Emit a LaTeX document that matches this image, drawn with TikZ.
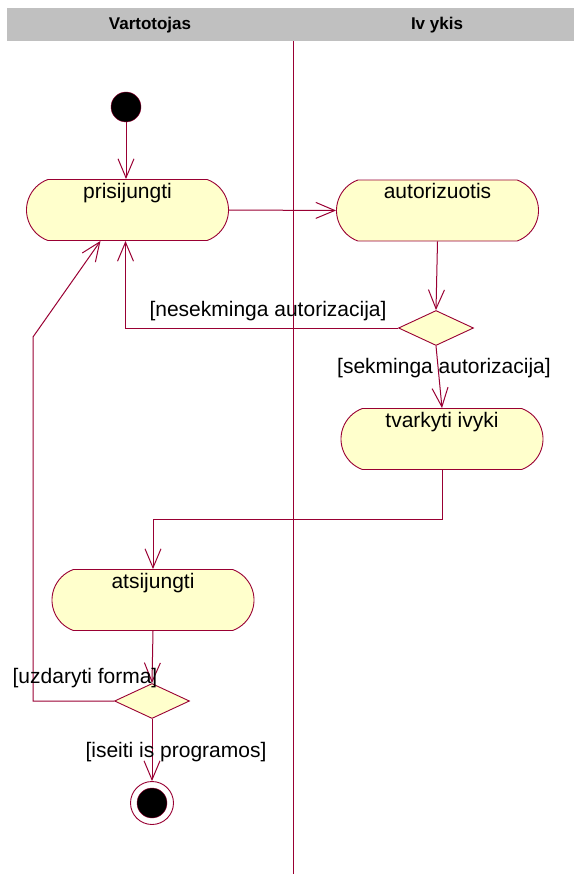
\documentclass[tikz,border=0pt]{standalone}
\usepackage{fontspec}
\setmainfont{Liberation Sans}
\usetikzlibrary{shapes.misc,shapes.geometric,arrows.meta}
\definecolor{umlline}{RGB}{153,0,51}
\definecolor{umlfill}{RGB}{255,255,204}
\definecolor{lanegray}{RGB}{192,192,192}

\begin{document}
\begin{tikzpicture}[x=1pt,y=-1pt,
  txt/.style={font=\fontsize{21}{24}\selectfont, inner sep=1pt},
  lanehead/.style={font=\fontsize{17}{20}\selectfont\bfseries, inner sep=0pt},
  action/.style={rounded rectangle, rounded rectangle arc length=140,
    draw=umlline, fill=umlfill, line width=0.9pt,
    minimum width=202pt, minimum height=61pt, inner sep=0pt},
  acttext/.style={label={[txt, anchor=north, yshift=-3pt]north:#1}},
  decision/.style={diamond, draw=umlline, fill=umlfill, line width=0.9pt,
    minimum width=75pt, minimum height=35pt, inner sep=0pt},
  flow/.style={draw=umlline, line width=1pt},
  arr/.style={flow, -{Straight Barb[length=19pt,width=16pt]}}
]
\useasboundingbox (0,0) rectangle (574,874);

% swimlane header and divider
\fill[lanegray] (7,8) rectangle (574,41);
\node[lanehead] (laneA) at (150,25) {Vartotojas};
\node[lanehead] (laneB) at (437,25) {Iv ykis};
\draw[umlline, line width=0.85pt] (293,41) -- (293,874);

% states
\node[circle, draw=umlline, fill=black, minimum size=30pt, inner sep=0pt] (start) at (126,107) {};
\node[action, acttext=prisijungti] (login) at (127.5,210) {};
\node[action, acttext=autorizuotis] (auth) at (437.5,210.5) {};
\node[decision] (dec1) at (436,328) {};
\node[action, acttext={tvarkyti ivyki}] (handle) at (442,439) {};
\node[action, acttext=atsijungti] (logout) at (153,600) {};
\node[decision] (dec2) at (152,701) {};
\node[circle, draw=umlline, fill=white, line width=0.9pt, minimum size=43pt, inner sep=0pt] (final) at (152,803) {};
\node[circle, draw=umlline, fill=black, minimum size=30pt, inner sep=0pt] (finalin) at (final) {};

% bend points
\coordinate (loopA) at (33,701);
\coordinate (loopB) at (33,337);

% transitions
\draw[arr] (start.south) -- (start.south |- login.north);
\draw[arr] (login.east) -- (auth.west);
\draw[arr] (auth.south) -- (dec1.north);
\draw[arr] (dec1.south) -- (handle.north);
\draw[arr] (dec1.west) -| ([xshift=-2pt]login.south);
\draw[arr] (handle.south) -- ++(0,50) -| (logout.north);
\draw[arr] (logout.south) -- (dec2.north);
\draw[arr] (dec2.west) -- (loopA) -- (loopB) -- ([xshift=-27pt]login.south);
\draw[arr] (dec2.south) -- (final.north);

% guards
\node[txt] (g1) at (268,311) {[nesekminga autorizacija]};
\node[txt] (g2) at (444,368) {[sekminga autorizacija]};
\node[txt] (g3) at (85,678) {[uzdaryti forma]};
\node[txt] (g4) at (176,752) {[iseiti is programos]};
\end{tikzpicture}
\end{document}
